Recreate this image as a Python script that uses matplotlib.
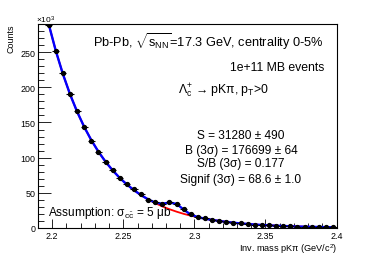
import numpy as np
import matplotlib
matplotlib.use("Agg")
import matplotlib.pyplot as plt
from matplotlib.ticker import MultipleLocator

plt.rcParams['font.family'] = ['Liberation Sans', 'DejaVu Sans']
plt.rcParams['mathtext.fontset'] = 'custom'
plt.rcParams['mathtext.rm'] = 'Liberation Sans'
plt.rcParams['mathtext.it'] = 'Liberation Sans'
plt.rcParams['mathtext.bf'] = 'Liberation Sans:bold'

# ---------------- data (counts in units of 10^3) ----------------
bin_centers = [2.1975, 2.2025, 2.2075, 2.2125, 2.2175, 2.2225, 2.2275, 2.2325,
               2.2375, 2.2425, 2.2475, 2.2525, 2.2575, 2.2625, 2.2675, 2.2725,
               2.2775, 2.2825, 2.2875, 2.2925, 2.2975, 2.3025, 2.3075, 2.3125,
               2.3175, 2.3225, 2.3275, 2.3325, 2.3375, 2.3425, 2.3475, 2.3525,
               2.3575, 2.3625, 2.3675, 2.3725, 2.3775, 2.3825, 2.3875, 2.3925,
               2.3975]
bin_half_width = 0.0025
counts = [288, 252, 220, 190, 166, 144, 124, 108, 94, 83, 71.5, 63, 55, 48, 40.5,
          36.7, 34.8, 36.7, 34.0, 27.0, 19.5, 15.3, 13.6, 11.2, 9.6, 8.2, 7.1,
          6.4, 5.5, 4.8, 4.1, 3.6, 3.1, 2.8, 2.4, 2.1, 1.9, 1.6, 1.4, 1.2, 1.0]
fit_background = [290, 252.0, 219.0, 190.3, 165.4, 143.7, 124.9, 108.5, 94.3, 82.0,
                  71.2, 61.9, 53.8, 46.7, 40.6, 35.3, 30.7, 26.7, 23.2, 20.1, 17.5,
                  15.2, 13.2, 11.5, 10.0, 8.7, 7.5, 6.5, 5.7, 4.9, 4.3, 3.7, 3.3,
                  2.8, 2.5, 2.1, 1.9, 1.6, 1.4, 1.2, 1.06]
fit_total = [290, 252.0, 219.0, 190.3, 165.4, 143.7, 124.9, 108.5, 94.3, 82.0,
             71.2, 61.9, 53.8, 46.7, 40.7, 36.0, 34.5, 36.2, 34.3, 26.1, 19.0,
             15.4, 13.2, 11.5, 10.0, 8.7, 7.5, 6.5, 5.7, 4.9, 4.3, 3.7, 3.3,
             2.8, 2.5, 2.1, 1.9, 1.6, 1.4, 1.2, 1.06]

x_ticks = [2.2, 2.25, 2.3, 2.35, 2.4]
x_tick_labels = ["2.2", "2.25", "2.3", "2.35", "2.4"]
y_ticks = [0, 50, 100, 150, 200, 250]

stats_lines = ["S = 31280 \u00b1 490",
               "B (3\u03c3) = 176699 \u00b1 64",
               "S/B (3\u03c3) = 0.177",
               "Signif (3\u03c3) = 68.6 \u00b1 1.0"]

# ---------------- figure ----------------
W, H = 374, 255
fig = plt.figure(figsize=(W / 100, H / 100), dpi=100)
L, R, T, B = 38, 336.5, 25, 229
ax = fig.add_axes([L / W, 1 - B / H, (R - L) / W, (B - T) / H])

ax.plot(bin_centers, fit_background, color='#ff0000', lw=1.3, zorder=2)
ax.plot(bin_centers, fit_total, color='#0000ff', lw=1.7, zorder=3)
ax.errorbar(bin_centers, counts, xerr=bin_half_width, fmt='o', color='black',
            ms=2.8, elinewidth=0.8, capsize=0, zorder=4)

ax.set_xlim(2.19, 2.4)
ax.set_ylim(0, 290)
ax.set_xticks(x_ticks)
ax.set_xticklabels(x_tick_labels)
ax.set_yticks(y_ticks)
ax.xaxis.set_minor_locator(MultipleLocator(0.01))
ax.yaxis.set_minor_locator(MultipleLocator(10))
ax.tick_params(which='both', direction='in', top=False, right=False,
               labelsize=6.4, width=0.6, color='black')
ax.tick_params(axis='x', which='major', length=6.5, pad=2.2)
ax.tick_params(axis='x', which='minor', length=3.3)
ax.tick_params(axis='y', which='major', length=9, pad=2)
ax.tick_params(axis='y', which='minor', length=4.5)
for s in ax.spines.values():
    s.set_linewidth(0.8)

def fx(px):
    return px / W

def fy(py):
    return 1 - py / H

fig.text(fx(36.5), fy(25.5), "\u00d710$^{3}$", fontsize=6, ha='left', va='bottom')
fig.text(fx(11), fy(24.5), "Counts", fontsize=6.4, rotation=90, ha='center', va='top')
fig.text(fx(337), fy(249), "Inv. mass pK\u03c0 (GeV/c$^{2}$)", fontsize=6.6,
         ha='right', va='center')

fig.text(fx(93), fy(41.7), "Pb-Pb, $\\sqrt{s_{\\rm NN}}$=17.3 GeV, centrality 0-5%",
         fontsize=9.2, ha='left', va='center')
fig.text(fx(324), fy(67.7), "1e+11 MB events", fontsize=8.8, ha='right', va='center')
fig.text(fx(178), fy(90.7), "\u039b$_{\\rm c}^{+}$ \u2192 pK\u03c0, p$_{\\rm T}$>0",
         fontsize=8.8, ha='left', va='center')

for txt, py in zip(stats_lines, [135.7, 150.7, 164.3, 180]):
    fig.text(fx(241), fy(py), txt, fontsize=8.6, ha='center', va='center')

fig.text(fx(48.3), fy(212.7), "Assumption: \u03c3$_{\\rm c\\bar{c}}$ = 5 \u03bcb",
         fontsize=8.6, ha='left', va='center')

fig.savefig("out.png", dpi=100)
